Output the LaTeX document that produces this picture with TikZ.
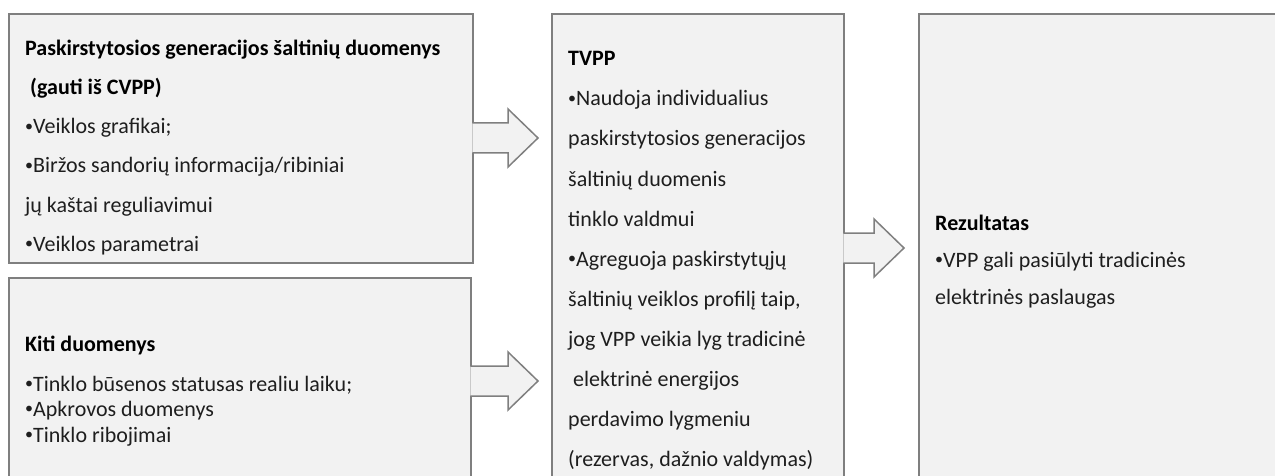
\documentclass[tikz,border=0pt]{standalone}
\usepackage{fontspec}
\setmainfont{Carlito}
\usetikzlibrary{calc}

\definecolor{boxfill}{RGB}{242,242,242}
\definecolor{boxline}{RGB}{127,127,127}
\definecolor{txtcol}{RGB}{30,30,30}

\tikzset{
  panel/.style={draw=boxline, fill=boxfill, line width=1.5pt, rectangle,
    anchor=north west, inner sep=0pt, outer sep=0pt},
  txt/.style={anchor=base west, inner sep=0pt, text=txtcol,
    font=\fontsize{22}{26}\selectfont},
  head/.style={txt, font=\fontsize{22}{26}\selectfont\bfseries, text=black},
  flow/.style={draw=boxline, fill=boxfill, line width=1.5pt, line join=miter}
}

% small list bullet
\newcommand\bul{\raisebox{2.5pt}{\fontsize{16}{16}\selectfont •}}

% block arrow: body 30 high, head 58 high and 30 long; #1 = start on the
% source box, #2 = tip
\newcommand\blockarrow[2]{%
  \filldraw[flow]
    ([xshift=-0.75pt,yshift=15pt]#1) -- ([xshift=-30pt,yshift=15pt]#2)
    -- ([xshift=-30pt,yshift=29pt]#2) -- (#2)
    -- ([xshift=-30pt,yshift=-29pt]#2) -- ([xshift=-30pt,yshift=-15pt]#2)
    -- ([xshift=-0.75pt,yshift=-15pt]#1);}

\begin{document}
\begin{tikzpicture}[x=1pt,y=-1pt]
\useasboundingbox (0,0) rectangle (1275,476);
\clip (0,0) rectangle (1275,476);

% boxes
\node[panel, minimum width=464pt, minimum height=249pt] (src) at (9,14) {};
\node[panel, minimum width=462pt, minimum height=230pt] (oth) at (9,278) {};
\node[panel, minimum width=292pt, minimum height=480pt] (tvpp) at (552,14) {};
\node[panel, minimum width=380pt, minimum height=480pt] (res) at (919,14) {};

% arrows between the boxes
\coordinate (s1) at (src.east |- 0,138);
\coordinate (t1) at ([xshift=-14pt]tvpp.west |- 0,138);
\blockarrow{s1}{t1}
\coordinate (s2) at (oth.east |- 0,381);
\coordinate (t2) at ([xshift=-14pt]tvpp.west |- 0,381);
\blockarrow{s2}{t2}
\coordinate (s3) at (tvpp.east |- 0,248);
\coordinate (t3) at ([xshift=-15pt]res.west |- 0,248);
\blockarrow{s3}{t3}

% distributed generation data
\node[head] (a1) at (25,56) {Paskirstytosios generacijos šaltinių duomenys};
\node[head] (a2) at (25,95) {\ (gauti iš CVPP)};
\node[txt] (a3) at (25,134) {\bul Veiklos grafikai;};
\node[txt] (a4) at (25,173) {\bul Biržos sandorių informacija/ribiniai};
\node[txt] (a5) at (25,212) {jų kaštai reguliavimui};
\node[txt] (a6) at (25,251) {\bul Veiklos parametrai};

% other data
\node[head] (b1) at (25,351) {Kiti duomenys};
\node[txt] (b2) at (25,391) {\bul Tinklo būsenos statusas realiu laiku;};
\node[txt] (b3) at (25,416) {\bul Apkrovos duomenys};
\node[txt] (b4) at (25,442) {\bul Tinklo ribojimai};

% TVPP
\node[head] (c1) at (568,66) {TVPP};
\node[txt] (c2) at (568,106) {\bul Naudoja individualius};
\node[txt] (c3) at (568,146) {paskirstytosios generacijos};
\node[txt] (c4) at (568,186) {šaltinių duomenis};
\node[txt] (c5) at (568,226) {tinklo valdmui};
\node[txt] (c6) at (568,266) {\bul Agreguoja paskirstytųjų};
\node[txt] (c7) at (568,306) {šaltinių veiklos profilį taip,};
\node[txt] (c8) at (568,346) {jog VPP veikia lyg tradicinė};
\node[txt] (c9) at (568,386) {\ elektrinė energijos};
\node[txt] (c10) at (568,426) {perdavimo lygmeniu};
\node[txt] (c11) at (568,466) {(rezervas, dažnio valdymas)};

% result
\node[head] (d1) at (935,230) {Rezultatas};
\node[txt] (d2) at (935,267) {\bul VPP gali pasiūlyti tradicinės};
\node[txt] (d3) at (935,304) {elektrinės paslaugas};
\end{tikzpicture}
\end{document}
